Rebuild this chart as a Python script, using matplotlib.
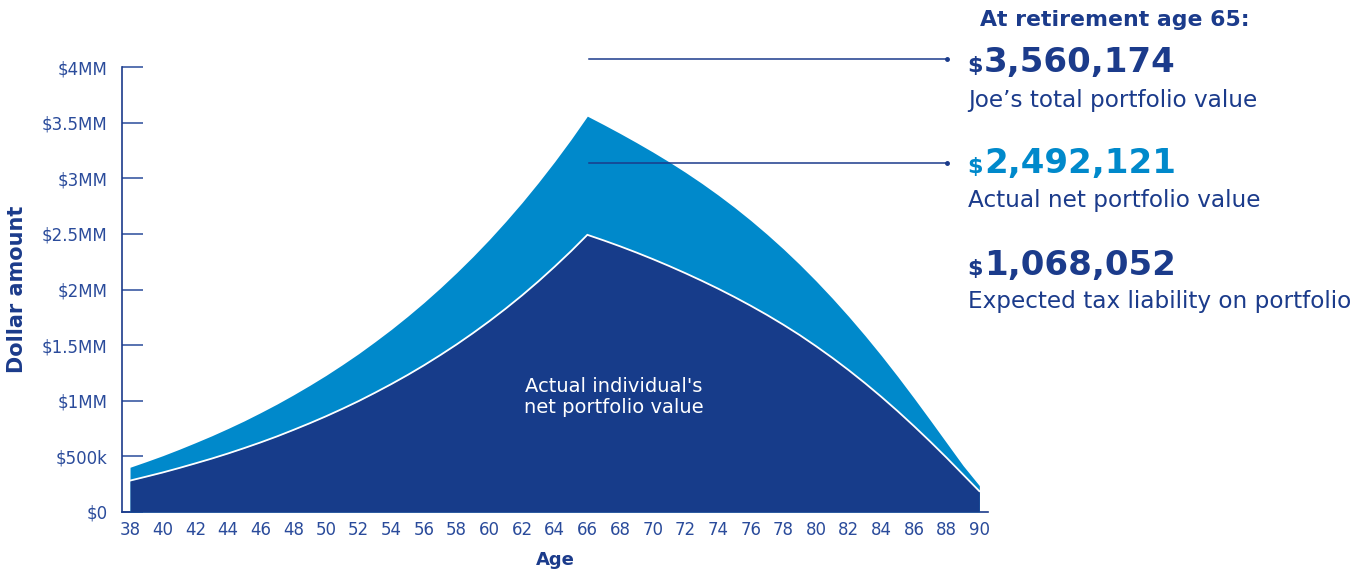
import matplotlib
matplotlib.use("Agg")
import matplotlib.pyplot as plt
from matplotlib.lines import Line2D
import numpy as np

# Portfolio projection by age (dollars)
ages = list(range(38, 91))
total_value = [
    400000, 451000, 504000, 561000, 621000, 683000, 749000, 818000, 892000, 969000,
    1051000, 1137000, 1227000, 1323000, 1423000, 1530000, 1641000, 1759000, 1883000, 2014000,
    2152000, 2297000, 2450000, 2612000, 2782000, 2962000, 3151000, 3350000, 3560174,
    3484000, 3405000, 3323000, 3238000, 3149000, 3055000, 2956000, 2851000, 2740000, 2622000,
    2497000, 2365000, 2225000, 2077000, 1921000, 1757000, 1585000, 1405000, 1217000, 1022000,
    822000, 619000, 416000, 235000,
]
net_value = [
    280000, 316000, 353000, 393000, 435000, 478000, 524000, 573000, 624000, 678000,
    736000, 796000, 859000, 926000, 996000, 1071000, 1149000, 1231000, 1318000, 1410000,
    1506000, 1608000, 1715000, 1828000, 1947000, 2073000, 2206000, 2345000, 2492121,
    2442000, 2389000, 2333000, 2274000, 2212000, 2147000, 2079000, 2008000, 1933000, 1854000,
    1771000, 1683000, 1590000, 1490000, 1385000, 1274000, 1157000, 1034000, 905000, 770000,
    630000, 485000, 335000, 185000,
]
tax_liability_label = "1,068,052"

y_ticks = [0, 500000, 1000000, 1500000, 2000000, 2500000, 3000000, 3500000, 4000000]
y_tick_labels = ["$0", "$500k", "$1MM", "$1.5MM", "$2MM", "$2.5MM", "$3MM", "$3.5MM", "$4MM"]
x_ticks = list(range(38, 91, 2))

NAVY = "#1b3b8b"
TICK_NAVY = "#2a4b9b"
DARK_FILL = "#173c8a"
LIGHT_FILL = "#0089cb"

W, H = 1372, 573
fig = plt.figure(figsize=(W / 100, H / 100), dpi=100)
ax = fig.add_axes([121.7 / W, 1 - 511.7 / H, (988 - 121.7) / W, (511.7 - 67.3) / H])

ax.fill_between(ages, 0, total_value, color=LIGHT_FILL, lw=0, zorder=3)
ax.fill_between(ages, 0, net_value, color=DARK_FILL, lw=0, zorder=4)
ax.plot(ages, net_value, color="white", lw=1.3, zorder=5, solid_joinstyle="miter")

ax.set_xlim(37.49, 90.53)
ax.set_ylim(0, 4000000)

for side in ("top", "right"):
    ax.spines[side].set_visible(False)
for side in ("left", "bottom"):
    ax.spines[side].set_color(NAVY)
    ax.spines[side].set_linewidth(1.2)

ax.set_yticks(y_ticks)
ax.set_yticklabels(y_tick_labels)
ax.set_xticks(x_ticks)
ax.set_xticklabels([str(a) for a in x_ticks])
ax.tick_params(axis="y", direction="in", length=15, width=1.1, color=TICK_NAVY,
               labelcolor=TICK_NAVY, labelsize=12, pad=10)
ax.tick_params(axis="x", length=0, labelcolor=TICK_NAVY, labelsize=12, pad=7)

ax.set_xlabel("Age", fontsize=13, fontweight="bold", color=NAVY, va="center")
ax.xaxis.set_label_coords(0.5, -0.1087)
ax.set_ylabel("Dollar amount", fontsize=15, fontweight="bold", color=NAVY, va="center")
ax.yaxis.set_label_coords(-0.1209, 0.5)

# Label inside the net area
ax.text(67.6, 1035000, "Actual individual's\nnet portfolio value", color="white",
        fontsize=14, ha="center", va="center", linespacing=1.15, zorder=6)

# Leader lines from the peak to the summary figures
peak = int(np.argmax(total_value))
x0 = ax.transData.transform((ages[peak], 0))[0] / W + 1.5 / W
for ypx in (59.3, 163.3):
    yf = 1 - ypx / H
    fig.add_artist(Line2D([x0, 947 / W], [yf, yf], transform=fig.transFigure,
                          color=NAVY, lw=1.1))
    fig.add_artist(Line2D([947 / W], [yf], transform=fig.transFigure, color=NAVY,
                          marker="o", markersize=2.5, lw=0))


def fy(px):
    return 1 - px / H


# Summary block
fig.text(980 / W, fy(26), "At retirement age 65:", fontsize=15.8, fontweight="bold",
         color=NAVY, va="baseline", ha="left")

entries = [
    (f"{total_value[peak]:,}", "Joe\u2019s total portfolio value", NAVY, 71.7, 106.7),
    (f"{net_value[peak]:,}", "Actual net portfolio value", LIGHT_FILL, 173.3, 206.7),
    (tax_liability_label, "Expected tax liability on portfolio", NAVY, 275.0, 308.3),
]
for number, caption, color, base_num, base_cap in entries:
    fig.text(967 / W, fy(base_num), "$", fontsize=16, fontweight="bold", color=color,
             va="baseline", ha="left")
    fig.text(984 / W, fy(base_num), number, fontsize=24.5, fontweight="bold", color=color,
             va="baseline", ha="left")
    fig.text(968 / W, fy(base_cap), caption, fontsize=16.7, color=NAVY,
             va="baseline", ha="left")

fig.savefig("out.png", dpi=100, facecolor="white")
